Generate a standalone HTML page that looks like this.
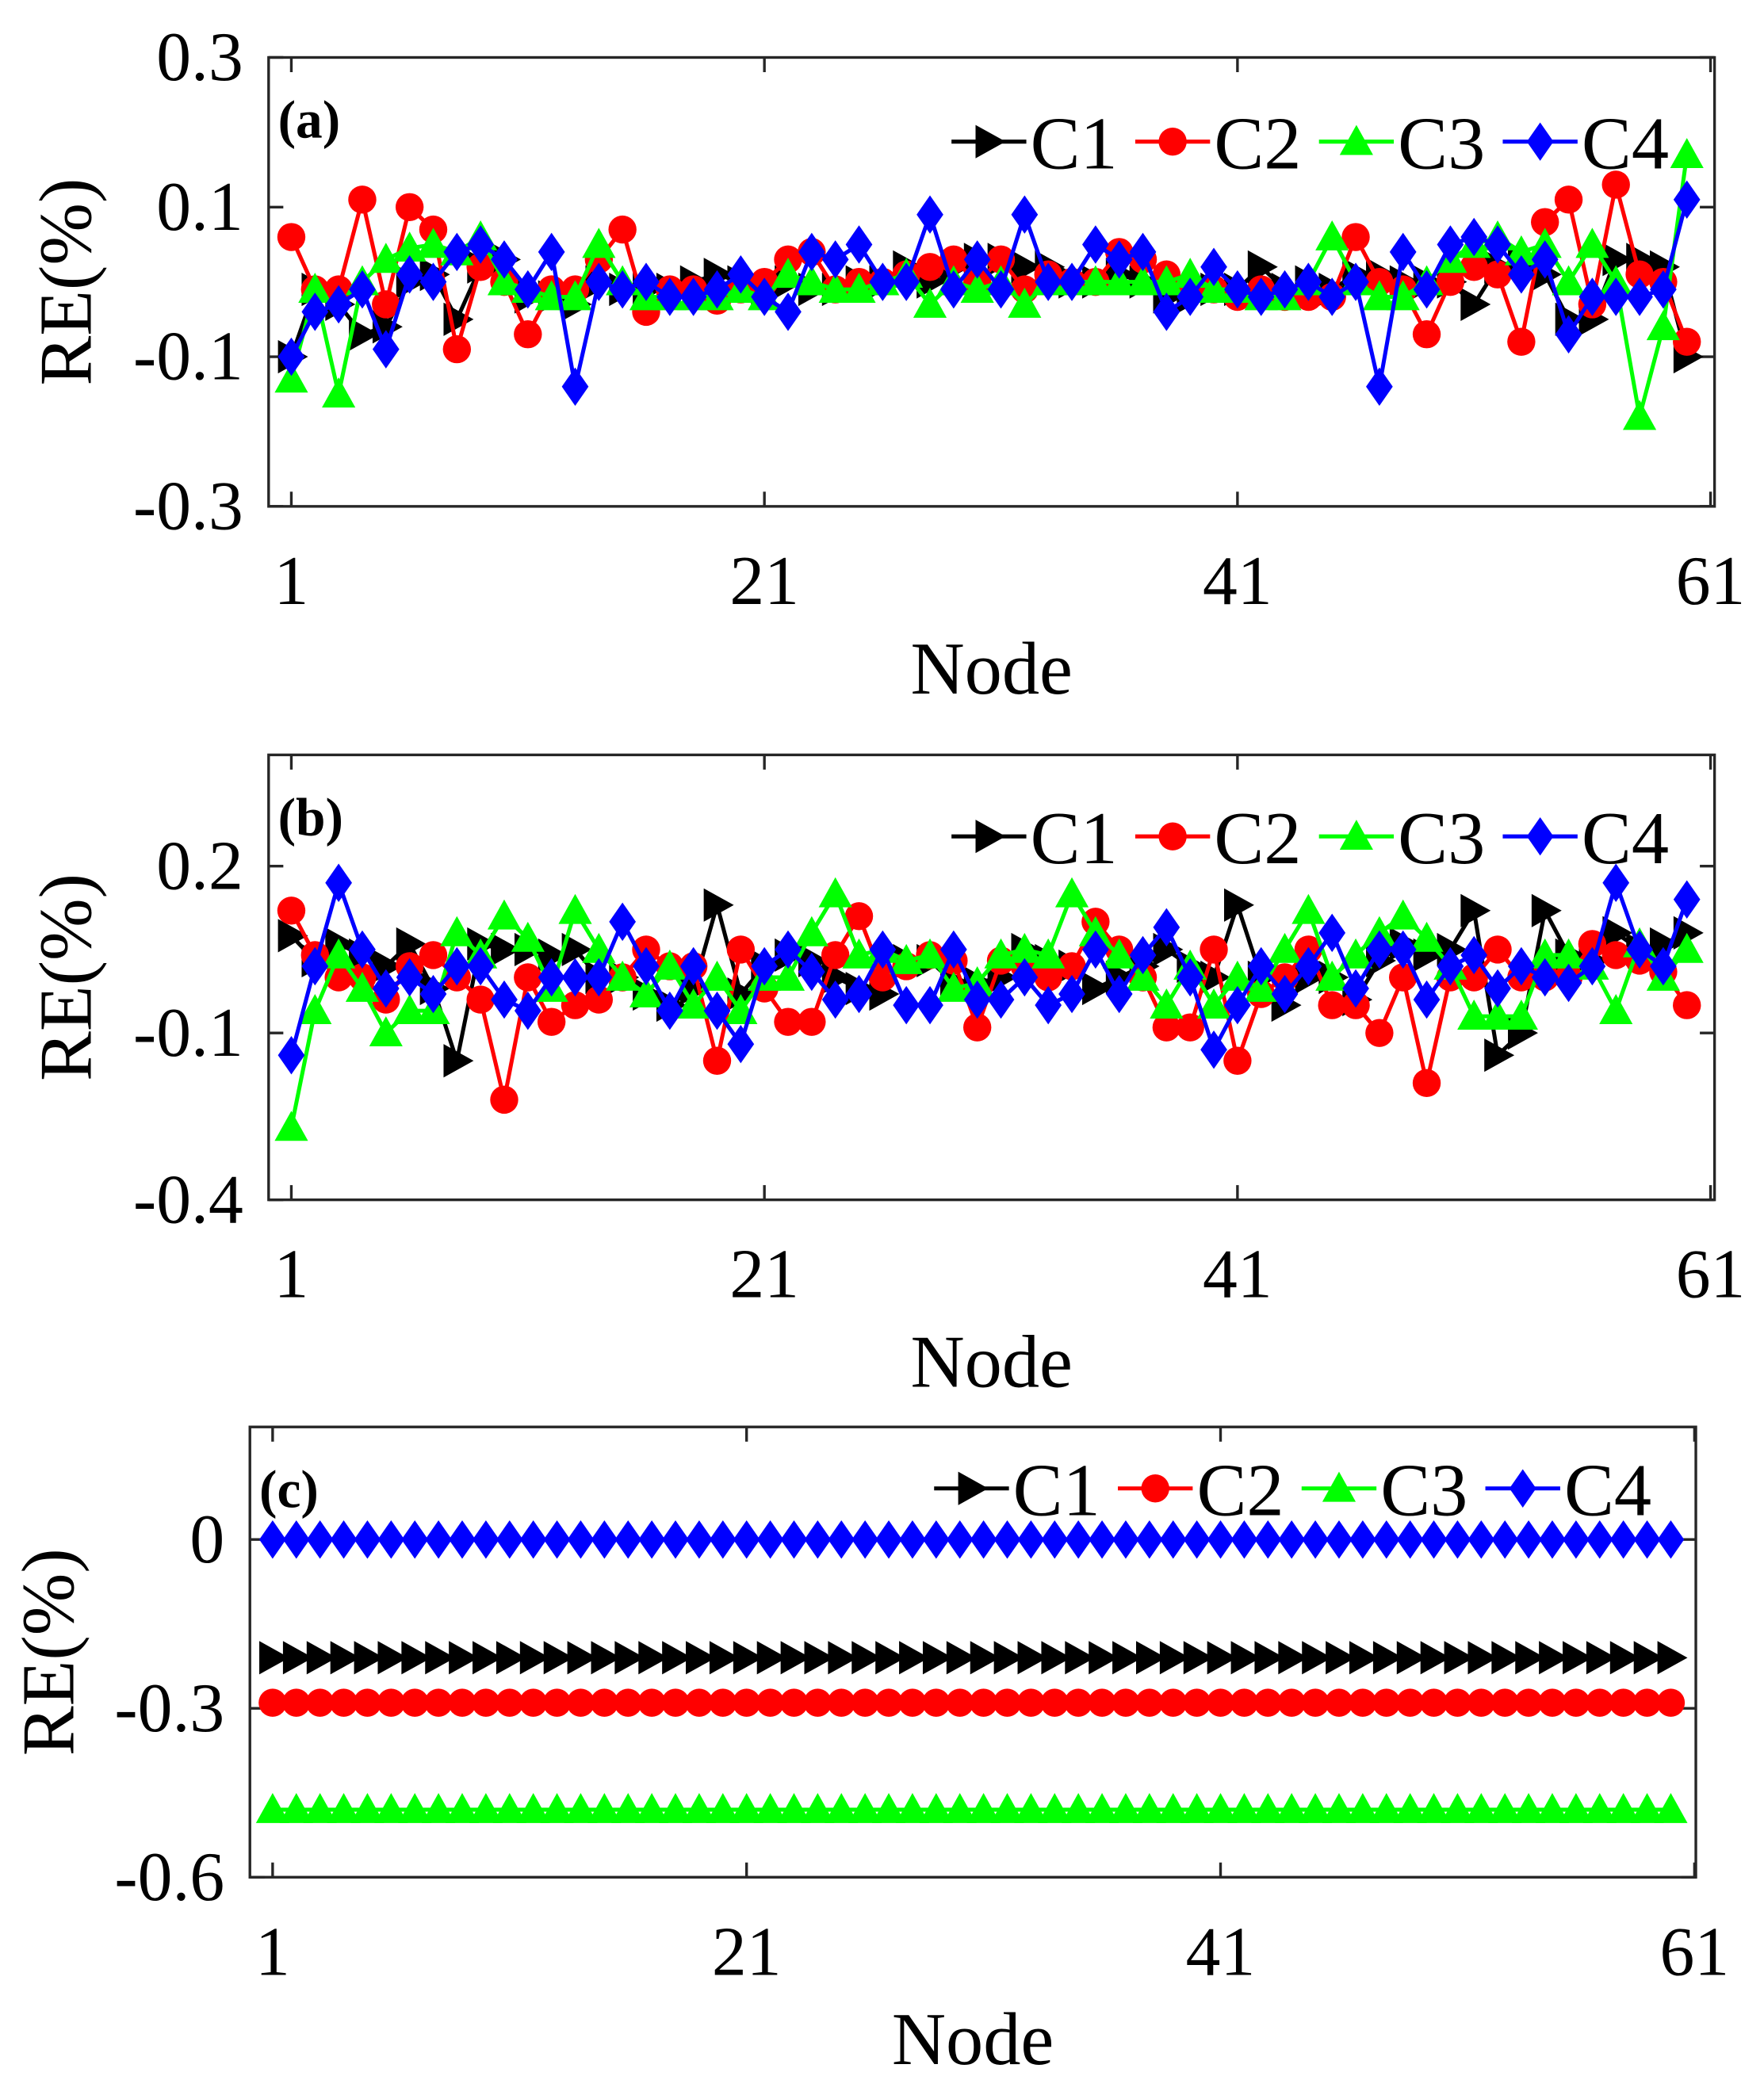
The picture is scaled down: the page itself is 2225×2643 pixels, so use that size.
<!DOCTYPE html>
<html><head><meta charset="utf-8">
<style>html,body{margin:0;padding:0;background:#fff}svg{display:block}</style>
</head><body>
<svg id="chart" width="2225" height="2643" viewBox="0 0 1320 1568" xmlns="http://www.w3.org/2000/svg" font-family="Liberation Serif, serif">
<rect width="1320" height="1568" fill="#fff"/>
</svg>
<script>
const nodeTicks = [1, 21, 41, 61];
const seriesNames = ["C1", "C2", "C3", "C4"];
const ticksA = [0.3, 0.1, -0.1, -0.3];
const ticksB = [0.2, -0.1, -0.4];
const ticksC = [0, -0.3, -0.6];
const tickLabelsA = ["0.3", "0.1", "-0.1", "-0.3"];
const tickLabelsB = ["0.2", "-0.1", "-0.4"];
const tickLabelsC = ["0", "-0.3", "-0.6"];

const c1a = [-0.10,-0.01,-0.03,-0.07,-0.06,0.00,0.01,-0.05,0.02,0.03,
 -0.02,-0.02,-0.03,0.00,-0.01,-0.01,-0.01,0.00,0.01,0.00,
 -0.01,0.00,-0.01,-0.01,0.00,0.00,0.02,0.00,0.02,0.03,
 0.03,0.02,0.02,0.00,0.00,0.01,0.00,-0.02,-0.02,
 -0.01,-0.01,0.02,-0.01,0.00,-0.01,0.01,0.01,0.00,0.00,
 0.00,-0.03,0.02,0.03,0.01,-0.05,-0.05,0.03,0.03,0.02,-0.10];
const c2a = [0.06,-0.01,-0.01,0.11,-0.03,0.10,0.07,-0.09,0.02,0.00,
 -0.07,-0.01,-0.01,0.03,0.07,-0.04,-0.01,-0.01,-0.025,-0.01,
 0.00,0.03,0.04,-0.01,0.00,0.00,0.01,0.02,0.03,0.00,
 0.03,-0.01,0.01,0.00,0.00,0.04,0.03,0.01,-0.01,
 -0.01,-0.02,-0.01,-0.02,-0.02,-0.02,0.06,0.00,-0.01,-0.07,
 0.00,0.02,0.01,-0.08,0.08,0.11,-0.03,0.13,0.01,0.00,-0.08];
const c3a = [-0.13,-0.01,-0.15,0.00,0.03,0.045,0.05,0.04,0.06,0.00,
 -0.01,-0.02,-0.02,0.05,0.00,-0.02,-0.02,-0.02,-0.02,-0.01,
 -0.02,0.01,0.00,-0.01,-0.01,0.00,0.01,-0.03,0.00,-0.01,
 0.00,-0.03,0.00,0.00,0.00,0.00,0.00,0.00,0.01,
 -0.01,-0.01,-0.02,-0.02,0.00,0.06,0.00,-0.02,-0.02,0.00,
 0.03,0.05,0.06,0.04,0.05,0.00,0.05,0.00,-0.18,-0.06,0.17];
const c4a = [-0.10,-0.04,-0.03,-0.01,-0.09,0.01,0.00,0.04,0.05,0.03,
 -0.01,0.04,-0.14,0.00,-0.01,0.00,-0.02,-0.02,-0.01,0.01,
 -0.02,-0.04,0.04,0.03,0.05,0.00,0.00,0.09,-0.01,0.03,
 -0.01,0.09,0.00,0.00,0.05,0.03,0.04,-0.04,-0.02,
 0.02,-0.01,-0.02,-0.01,0.00,-0.02,0.00,-0.14,0.04,-0.01,
 0.05,0.06,0.05,0.01,0.03,-0.07,-0.02,-0.02,-0.02,-0.01,0.11];

const c1b = [0.075,0.03,0.06,0.04,0.02,0.06,-0.02,-0.15,0.06,0.05,
 0.05,0.04,0.05,0.00,0.00,-0.03,-0.05,-0.02,0.13,-0.03,
 0.02,0.04,0.03,0.00,-0.02,-0.03,0.03,0.03,-0.01,-0.01,
 0.00,0.05,0.03,0.02,-0.02,0.00,0.02,0.05,0.02,
 0.00,0.13,0.00,-0.05,0.00,0.00,-0.04,0.03,0.06,0.04,
 0.05,0.12,-0.14,-0.10,0.12,0.04,0.03,0.08,0.05,0.06,0.08];
const c2b = [0.12,0.04,0.00,0.00,-0.04,0.02,0.04,0.00,-0.04,-0.22,
 0.00,-0.08,-0.05,-0.04,0.00,0.05,0.02,0.02,-0.15,0.05,
 -0.02,-0.08,-0.08,0.04,0.11,0.00,0.02,0.04,0.03,-0.09,
 0.03,0.02,0.00,0.02,0.10,0.05,0.00,-0.09,-0.09,
 0.05,-0.15,-0.03,0.00,0.05,-0.05,-0.05,-0.10,0.00,-0.19,
 0.00,0.00,0.05,0.00,0.00,0.00,0.06,0.04,0.03,0.01,-0.05];
const c3b = [-0.27,-0.06,0.04,-0.02,-0.10,-0.06,-0.06,0.08,0.04,0.11,
 0.07,-0.02,0.12,0.05,0.00,-0.03,0.02,-0.05,0.00,-0.06,
 0.00,0.00,0.08,0.15,0.04,0.05,0.03,0.04,-0.02,-0.01,
 0.04,0.05,0.04,0.15,0.08,0.04,0.00,-0.05,0.02,
 -0.05,0.00,-0.02,0.05,0.12,0.00,0.04,0.08,0.11,0.07,
 0.02,-0.07,-0.07,-0.07,0.04,0.04,0.02,-0.06,0.06,0.00,0.05];
const c4b = [-0.14,0.02,0.17,0.05,-0.02,0.00,-0.03,0.02,0.02,-0.04,
 -0.06,0.00,0.00,0.00,0.10,0.02,-0.06,0.02,-0.06,-0.12,
 0.02,0.05,0.01,-0.04,-0.03,0.05,-0.05,-0.05,0.05,-0.04,
 -0.04,0.00,-0.05,-0.03,0.05,-0.03,0.04,0.09,0.00,
 -0.13,-0.05,0.02,-0.03,0.02,0.08,-0.02,0.05,0.05,-0.04,
 0.02,0.04,-0.02,0.02,0.00,-0.01,0.02,0.17,0.05,0.02,0.14];

const c1c = [-0.21,-0.21,-0.21,-0.21,-0.21,-0.21,-0.21,-0.21,-0.21,-0.21,
 -0.21,-0.21,-0.21,-0.21,-0.21,-0.21,-0.21,-0.21,-0.21,-0.21,
 -0.21,-0.21,-0.21,-0.21,-0.21,-0.21,-0.21,-0.21,-0.21,-0.21,
 -0.21,-0.21,-0.21,-0.21,-0.21,-0.21,-0.21,-0.21,-0.21,-0.21,
 -0.21,-0.21,-0.21,-0.21,-0.21,-0.21,-0.21,-0.21,-0.21,-0.21,
 -0.21,-0.21,-0.21,-0.21,-0.21,-0.21,-0.21,-0.21,-0.21,-0.21];
const c2c = [-0.29,-0.29,-0.29,-0.29,-0.29,-0.29,-0.29,-0.29,-0.29,-0.29,
 -0.29,-0.29,-0.29,-0.29,-0.29,-0.29,-0.29,-0.29,-0.29,-0.29,
 -0.29,-0.29,-0.29,-0.29,-0.29,-0.29,-0.29,-0.29,-0.29,-0.29,
 -0.29,-0.29,-0.29,-0.29,-0.29,-0.29,-0.29,-0.29,-0.29,-0.29,
 -0.29,-0.29,-0.29,-0.29,-0.29,-0.29,-0.29,-0.29,-0.29,-0.29,
 -0.29,-0.29,-0.29,-0.29,-0.29,-0.29,-0.29,-0.29,-0.29,-0.29];
const c3c = [-0.48,-0.48,-0.48,-0.48,-0.48,-0.48,-0.48,-0.48,-0.48,-0.48,
 -0.48,-0.48,-0.48,-0.48,-0.48,-0.48,-0.48,-0.48,-0.48,-0.48,
 -0.48,-0.48,-0.48,-0.48,-0.48,-0.48,-0.48,-0.48,-0.48,-0.48,
 -0.48,-0.48,-0.48,-0.48,-0.48,-0.48,-0.48,-0.48,-0.48,-0.48,
 -0.48,-0.48,-0.48,-0.48,-0.48,-0.48,-0.48,-0.48,-0.48,-0.48,
 -0.48,-0.48,-0.48,-0.48,-0.48,-0.48,-0.48,-0.48,-0.48,-0.48];
const c4c = [0,0,0,0,0,0,0,0,0,0, 0,0,0,0,0,0,0,0,0,0, 0,0,0,0,0,0,0,0,0,0,
 0,0,0,0,0,0,0,0,0,0, 0,0,0,0,0,0,0,0,0,0, 0,0,0,0,0,0,0,0,0,0];

const NS = "http://www.w3.org/2000/svg";
const svg = document.getElementById("chart");
const colors = ["#000000", "#ff0000", "#00ff00", "#0000ff"];
const shapes = ["right", "circle", "up", "diamond"];

function mk(tag, attrs, parent) {
  const e = document.createElementNS(NS, tag);
  for (const k in attrs) e.setAttribute(k, attrs[k]);
  (parent || svg).appendChild(e);
  return e;
}
function marker(shape, x, y, color, parent) {
  const s = 12.5;
  let e;
  if (shape === "circle") e = mk("circle", {cx: x, cy: y, r: 10.5, fill: color}, parent);
  else if (shape === "right") e = mk("polygon", {points: `${x-s*0.8},${y-s} ${x+s},${y} ${x-s*0.8},${y+s}`, fill: color}, parent);
  else if (shape === "up") e = mk("polygon", {points: `${x},${y-s} ${x+s},${y+s*0.8} ${x-s},${y+s*0.8}`, fill: color}, parent);
  else e = mk("polygon", {points: `${x},${y-s*1.15} ${x+s*0.8},${y} ${x},${y+s*1.15} ${x-s*0.8},${y}`, fill: color}, parent);
  return e;
}

function panel(cfg) {
  const g = mk("g", {});
  
  
  const xs = n => cfg.n1 + (n - 1) * (cfg.n61 - cfg.n1) / 60;
  const ys = v => cfg.y0 + (cfg.ymax - v) / (cfg.ymax - cfg.ymin) * (cfg.y1 - cfg.y0);
  const frame = mk("rect", {x: cfg.x0, y: cfg.y0, width: cfg.x1 - cfg.x0, height: cfg.y1 - cfg.y0, fill: "none", stroke: "#262626", "stroke-width": 2}, g);
  
  
  nodeTicks.forEach(n => {
    const x = xs(n);
    mk("line", {x1: x, y1: cfg.y1, x2: x, y2: cfg.y1 - 11, stroke: "#262626", "stroke-width": 2}, g);
    mk("line", {x1: x, y1: cfg.y0, x2: x, y2: cfg.y0 + 11, stroke: "#262626", "stroke-width": 2}, g);
    const t = mk("text", {x: x, y: cfg.y1 + 73, "font-size": 52, "text-anchor": "middle", fill: "#000"}, g);
    t.textContent = String(n);
    
    
  });
  cfg.ticks.forEach((v, i) => {
    const y = ys(v);
    mk("line", {x1: cfg.x0, y1: y, x2: cfg.x0 + 11, y2: y, stroke: "#262626", "stroke-width": 2}, g);
    mk("line", {x1: cfg.x1, y1: y, x2: cfg.x1 - 11, y2: y, stroke: "#262626", "stroke-width": 2}, g);
    const t = mk("text", {x: cfg.x0 - 19, y: y + 17, "font-size": 52, "text-anchor": "end", fill: "#000"}, g);
    t.textContent = cfg.tickLabels[i];
    
    
  });
  const xl = mk("text", {x: (cfg.x0 + cfg.x1) / 2, y: cfg.y1 + 140, "font-size": 56, "text-anchor": "middle", fill: "#000"}, g);
  xl.textContent = "Node";
  
  
  const ycx = cfg.ylx, ycy = (cfg.y0 + cfg.y1) / 2;
  const yl = mk("text", {x: ycx, y: ycy, "font-size": 56, "text-anchor": "middle", fill: "#000", transform: `rotate(-90 ${ycx} ${ycy})`}, g);
  yl.textContent = "RE(%)";
  
  
  const pl = mk("text", {x: cfg.x0 + 7, y: cfg.y0 + 60, "font-size": 40, "font-weight": "bold", fill: "#000"}, g);
  pl.textContent = cfg.label;
  
  

  cfg.data.forEach((arr, si) => {
    const sg = mk("g", {}, g);
    
    
    const pts = arr.map((v, i) => `${xs(i + 1)},${ys(v)}`).join(" ");
    mk("polyline", {points: pts, fill: "none", stroke: colors[si], "stroke-width": 3, "stroke-linejoin": "round"}, sg);
    arr.forEach((v, i) => {
      const m = marker(shapes[si], xs(i + 1), ys(v), colors[si], sg);
      
      
    });
  });

  const lg = mk("g", {}, g);
  
  
  seriesNames.forEach((nm, si) => {
    const cx = cfg.legX + si * 137.5;
    const ly = cfg.legY;
    const eg = mk("g", {}, lg);
    
    
    mk("line", {x1: cx - 28, y1: ly, x2: cx + 28, y2: ly, stroke: colors[si], "stroke-width": 3}, eg);
    marker(shapes[si], cx, ly, colors[si], eg);
    const t = mk("text", {x: cx + 31, y: ly + 20, "font-size": 56, fill: "#000"}, eg);
    t.textContent = nm;
  });
}

panel({name: "panel-a", label: "(a)", x0: 201, x1: 1283, y0: 43, y1: 379, n1: 218, n61: 1280, ymin: -0.3, ymax: 0.3,
  ticks: ticksA, tickLabels: tickLabelsA, ylx: 68, legX: 740, legY: 106, data: [c1a, c2a, c3a, c4a]});
panel({name: "panel-b", label: "(b)", x0: 201, x1: 1283, y0: 565, y1: 898, n1: 218, n61: 1280, ymin: -0.4, ymax: 0.4,
  ticks: ticksB, tickLabels: tickLabelsB, ylx: 68, legX: 740, legY: 626, data: [c1b, c2b, c3b, c4b]});
panel({name: "panel-c", label: "(c)", x0: 187, x1: 1269, y0: 1068, y1: 1405, n1: 204, n61: 1268, ymin: -0.6, ymax: 0.2,
  ticks: ticksC, tickLabels: tickLabelsC, ylx: 55, legX: 727, legY: 1114, data: [c1c, c2c, c3c, c4c]});
</script>
</body></html>
